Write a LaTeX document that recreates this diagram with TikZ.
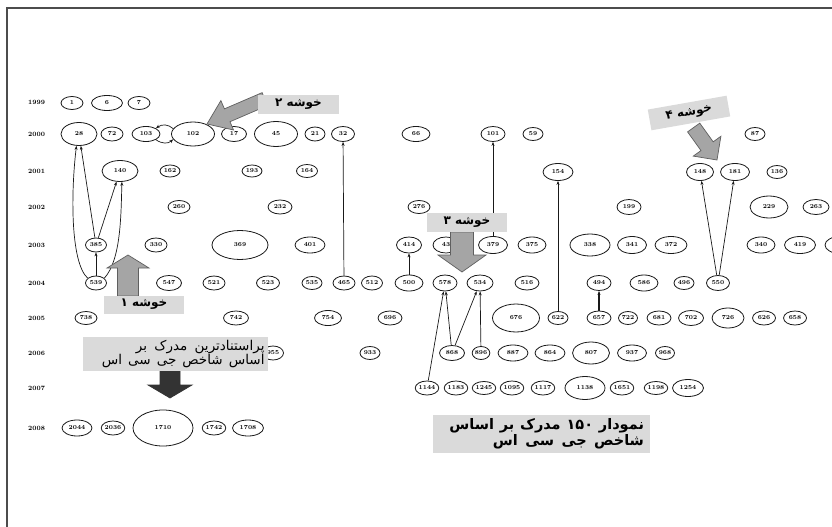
\documentclass[tikz,border=0pt]{standalone}
\usepackage{fontspec}
\usetikzlibrary{shapes.geometric,arrows.meta}
\newfontfamily\fa[Script=Arabic]{DejaVu Sans}
\TeXXeTstate=1
\definecolor{boxgray}{RGB}{218,218,218}
\definecolor{arrgray}{RGB}{165,165,165}
\definecolor{arredge}{RGB}{95,95,95}
\definecolor{lin}{RGB}{25,25,25}
\begin{document}
\begin{tikzpicture}[x=1pt,y=-1pt,
 doc/.style={ellipse,draw=lin,line width=0.8pt,inner sep=0pt,font=\fontsize{6}{6}\selectfont\bfseries},
 edge/.style={draw=lin,line width=0.7pt,-{Stealth[length=4pt,width=3pt]}},
 yr/.style={font=\fontsize{6.5}{7}\selectfont\bfseries,anchor=west,inner sep=0pt},
 clusterbox/.style={fill=boxgray,inner sep=0pt,font=\fa\bfseries\fontsize{12}{14}\selectfont},
 notebox/.style={fill=boxgray,inner sep=3pt,align=right},
 blk/.style={fill=arrgray,draw=arredge,line width=0.7pt,line join=miter},
 blkdark/.style={fill=black!80,draw=black!80,line width=0.7pt,line join=miter}]
\useasboundingbox (0,0) rectangle (832,527);
\fill[white] (0,0) rectangle (832,527);
% frame
\draw[black!70,line width=1.2pt] (7,527) -- (7,8) -- (832,8);
% year labels
\foreach \yy/\y in {1999/102,2000/134,2001/171,2002/207,2003/245,2004/283,2005/318,2006/353,2007/388,2008/428}
  \node[yr] (y\yy) at (28,\y) {\yy};
% documents
\foreach \n/\x/\y/\w/\h in {
1/72/103/22/13, 6/107/103/31/15, 7/139/103/22/13,
28/79/134/36/23, 72/112/134/22/14, 103/146/134/28/15, 102/193/134/43/24, 17/234/134/25/15, 45/276/134/43/25, 21/315/134/20/14, 32/343/134/23/15, 66/416/134/28/15, 101/493/134/24/15, 59/533/134/20/13, 87/755/134/20/13,
140/120/171/36/21, 162/170/171/20/12, 193/252/171/20/12, 164/307/171/21/13, 154/558/172/30/17, 148/700/172/27/17, 181/735/172/29/17, 136/777/172/20/13,
260/179/207/22/13, 232/280/207/24/14, 276/419/207/22/13, 199/629/207/24/15, 229/769/207/38/22, 263/816/207/26/15,
385/96/245/21/14, 330/156/245/22/14, 369/240/245/56/29, 401/310/245/30/16, 414/409/245/25/16, 43/446/245/26/16, 379/493/245/29/17, 375/532/245/28/16, 338/590/245/40/22, 341/632/245/29/17, 372/671/245/32/17, 340/761/245/28/16, 419/800/245/31/17,
539/96/283/21/14, 547/169/283/25/15, 521/214/283/22/14, 523/268/283/23/14, 535/312/283/20/13, 465/344/283/22/14, 512/372/283/21/14, 500/409/283/28/16, 578/445/283/24/16, 534/480/283/26/16, 516/527/283/24/14, 494/599/283/24/15, 586/644/283/28/16, 496/684/283/20/13, 550/718/283/23/15,
738/86/318/22/13, 742/236/318/25/14, 754/328/318/27/15, 696/390/318/24/14, 676/516/318/47/28, 622/558/318/20/13, 657/599/318/24/14, 722/628/318/19/13, 681/659/318/24/14, 702/691/318/25/15, 726/728/318/32/20, 626/764/318/23/14, 658/795/318/23/14,
955/273/353/21/14, 933/370/353/20/13, 868/452/353/25/15, 896/481/353/17/13, 887/513/353/30/16, 864/550/353/30/16, 807/591/353/37/22, 937/632/353/29/16, 968/665/353/19/13,
1144/427/388/20/14, 1183/456/388/19/14, 1245/484/388/18/13, 1095/512/388/21/14, 1117/543/388/23/14, 1138/585/388/40/23, 1651/622/388/20/14, 1198/656/388/19/13, 1254/688/388/31/17,
2044/77/428/30/16, 2036/113/428/22/14, 1710/163/428/60/36, 1742/214/428/21/14, 1708/248/428/31/16}
  \node[doc,minimum width=\w pt,minimum height=\h pt] (n\n) at (\x,\y) {\n};
\node[doc,minimum width=30pt,minimum height=17pt] (nedge) at (840,245) {};
% connectors
\draw[edge] (n539) -- (n385);
\draw[edge] (n385) -- (n28);
\draw[edge] (n385) -- (n140);
\draw[edge] (n539.150) .. controls (70,262) and (71,190) .. (n28.258);
\draw[edge] (n539.30) .. controls (121,260) and (121,215) .. (n140.280);
\draw[edge] (n102.165) .. controls (168,124) and (162,124) .. (n103.30);
\draw[edge] (n103.-30) .. controls (162,144) and (168,144) .. (n102.195);
\draw[edge] (n465) -- (n32);
\draw[edge] (n379) -- (n101);
\draw[edge] (n500) -- (n414);
\draw[edge] (n622) -- (n154);
\draw[edge,line width=1.3pt] (n657) -- (n494);
\draw[edge] (n550) -- (n148);
\draw[edge] (n550) -- (n181);
\draw[edge] (n1144) -- (n578);
\draw[edge] (n868) -- (n578);
\draw[edge] (n868) -- (n534);
\draw[edge] (n896) -- (n534);
% block arrows
\begin{scope}[shift={(207,124)},rotate=203.3]
 \path[blk] (0,0) -- (-22,16) -- (-22,7) -- (-63,7) -- (-63,-7) -- (-22,-7) -- (-22,-16) -- cycle;
\end{scope}
\begin{scope}[shift={(717,160)},rotate=-54.3]
 \path[blk] (0,0) -- (-17,17) -- (-17,7.5) -- (-40,7.5) -- (-40,-7.5) -- (-17,-7.5) -- (-17,-17) -- cycle;
\end{scope}
\begin{scope}[shift={(462,272)},rotate=-90]
 \path[blk] (0,0) -- (-17,24) -- (-17,11.5) -- (-40,11.5) -- (-40,-11.5) -- (-17,-11.5) -- (-17,-24) -- cycle;
\end{scope}
\begin{scope}[shift={(128,255)},rotate=90]
 \path[blk] (0,0) -- (-13,21) -- (-13,10.5) -- (-41,10.5) -- (-41,-10.5) -- (-13,-10.5) -- (-13,-21) -- cycle;
\end{scope}
\begin{scope}[shift={(170,398)},rotate=-90]
 \path[blkdark] (0,0) -- (-13,22) -- (-13,10) -- (-28,10) -- (-28,-10) -- (-13,-10) -- (-13,-22) -- cycle;
\end{scope}
% label boxes
\node[clusterbox,minimum width=81pt,minimum height=19pt] (c2) at (298.5,104.5) {\beginR خوشه ۲\endR};
\node[clusterbox,minimum width=80pt,minimum height=21pt,rotate=10] (c4) at (689,113) {\beginR خوشه ۴\endR};
\node[clusterbox,minimum width=80pt,minimum height=19pt] (c3) at (467,222.5) {\beginR خوشه ۳\endR};
\node[clusterbox,minimum width=80pt,minimum height=18pt] (c1) at (144,304.5) {\beginR خوشه ۱\endR};
\node[notebox,minimum width=185pt,minimum height=32pt,text width=178pt,font=\fa\fontsize{13.5}{14}\selectfont] (top) at (175.5,354)
  {\spaceskip=5.5pt plus 1pt\relax\beginR پراستنادترین مدرک بر\endR\\\beginR اساس شاخص جی سی اس\endR};
\node[notebox,minimum width=217pt,minimum height=38pt,text width=205pt,font=\fa\bfseries\fontsize{14.5}{16}\selectfont] (graph) at (541.5,434)
  {\spaceskip=5.5pt plus 1pt\relax\beginR نمودار \beginL۱۵۰\endL{} مدرک بر اساس\endR\\\beginR شاخص جی سی اس\endR};
\end{tikzpicture}
\end{document}
